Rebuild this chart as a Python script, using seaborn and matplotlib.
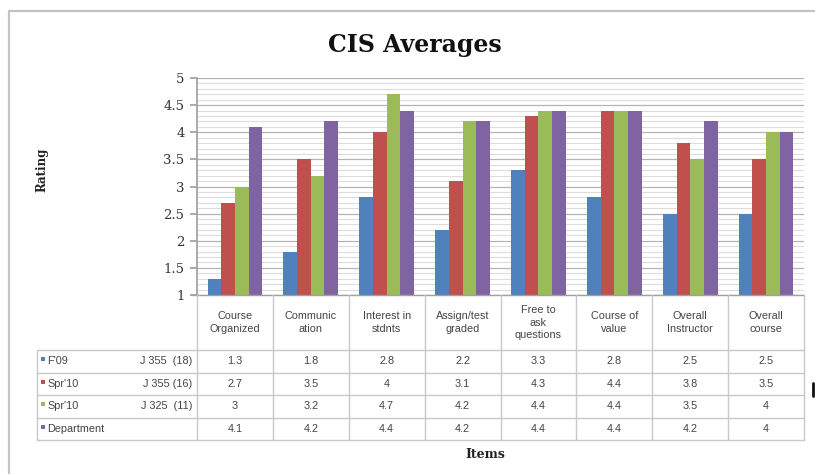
import numpy as np
import pandas as pd
import matplotlib
matplotlib.use("Agg")
import matplotlib.pyplot as plt
import seaborn as sns
from matplotlib.ticker import MultipleLocator, FuncFormatter

# --- data ---
items = ["Course\nOrganized", "Communic\nation", "Interest in\nstdnts", "Assign/test\ngraded",
         "Free to\nask\nquestions", "Course of\nvalue", "Overall\nInstructor", "Overall\ncourse"]
series = ["F'09 J 355 (18)", "Spr'10 J 355 (16)", "Spr'10 J 325 (11)", "Department"]
row_left = ["F'09", "Spr'10", "Spr'10", "Department"]
row_right = ["J 355  (18)", "J 355 (16)", "J 325  (11)", ""]
f09_j355 = [1.3, 1.8, 2.8, 2.2, 3.3, 2.8, 2.5, 2.5]
spr10_j355 = [2.7, 3.5, 4, 3.1, 4.3, 4.4, 3.8, 3.5]
spr10_j325 = [3, 3.2, 4.7, 4.2, 4.4, 4.4, 3.5, 4]
department = [4.1, 4.2, 4.4, 4.2, 4.4, 4.4, 4.2, 4]
colors = ["#4F81BD", "#C0504D", "#9BBB59", "#8064A2"]

values = [f09_j355, spr10_j355, spr10_j325, department]
df = pd.DataFrame({
    "item": items * len(series),
    "series": np.repeat(series, len(items)),
    "rating": np.concatenate(values),
})

sns.set_theme(style="white")
plt.rcParams["font.family"] = ["DejaVu Serif"]

W, H = 815, 474
fig = plt.figure(figsize=(W / 100, H / 100), dpi=100)

# plot area in pixels
x0, x1, y_top, y_bot = 197, 804, 78, 295
ax = fig.add_axes([x0 / W, 1 - y_bot / H, (x1 - x0) / W, (y_bot - y_top) / H])

sns.barplot(data=df, x="item", y="rating", hue="series", order=items, hue_order=series,
            palette=colors, width=0.72, gap=0, saturation=1, errorbar=None,
            legend=False, ax=ax, linewidth=0)

ax.set_ylim(1, 5)
ax.set_xlim(-0.5, len(items) - 0.5)
ax.yaxis.set_major_locator(MultipleLocator(0.5))
ax.yaxis.set_minor_locator(MultipleLocator(0.1))
ax.yaxis.set_major_formatter(FuncFormatter(lambda v, p: f"{v:g}"))
ax.set_axisbelow(True)
ax.grid(which="minor", axis="y", color="#dcdcdc", lw=0.8)
ax.grid(which="major", axis="y", color="#b4b4b4", lw=0.9)
ax.set_xticks([])
ax.set_xlabel("")
ax.set_ylabel("")
for s in ["top", "right", "bottom"]:
    ax.spines[s].set_visible(False)
ax.spines["left"].set_color("#a0a0a0")
ax.tick_params(axis="y", which="major", left=True, length=5, color="#a0a0a0",
               labelsize=9.5, labelcolor="#333333", pad=4)
ax.tick_params(axis="y", which="minor", left=False)

# overlay in pixel coords for frame, titles and data table
ov = fig.add_axes([0, 0, 1, 1], zorder=5)
ov.set_xlim(0, W)
ov.set_ylim(H, 0)
ov.axis("off")
ov.patch.set_alpha(0)

ov.plot([9, W + 5], [11, 11], color="#c4c4c4", lw=1.6)
ov.plot([9, 9], [11, H + 5], color="#c4c4c4", lw=1.6)

ov.text(415, 45, "CIS Averages", ha="center", va="center", fontsize=17, fontweight="bold",
        color="#111111")
ov.text(42, 170, "Rating", ha="center", va="center", rotation=90, fontsize=8.5,
        fontweight="bold", color="#222222")
ov.text(485, 455, "Items", ha="center", va="center", fontsize=9, fontweight="bold",
        color="#222222")

line_c = "#c8c8c8"
sans = ["Liberation Sans", "DejaVu Sans"]
txt_c = "#444444"
col_w = (x1 - x0) / len(items)
row_y = [350, 372.5, 395, 417.5, 440]
tab_left = 37

# x axis line
ov.plot([x0 - 5, x1], [y_bot, y_bot], color="#a0a0a0", lw=1)
# horizontal table lines
for y in row_y:
    ov.plot([tab_left, x1], [y, y], color=line_c, lw=1)
ov.plot([tab_left, tab_left], [row_y[0], row_y[-1]], color=line_c, lw=1)
for i in range(len(items) + 1):
    xx = x0 + i * col_w
    ov.plot([xx, xx], [y_bot, row_y[-1]], color=line_c, lw=1)

# column headers
for i, it in enumerate(items):
    ov.text(x0 + (i + 0.5) * col_w, (y_bot + row_y[0]) / 2, it, ha="center", va="center",
            fontsize=7.8, family=sans, color=txt_c, linespacing=1.35)

# rows
for r in range(len(series)):
    yc = (row_y[r] + row_y[r + 1]) / 2
    ov.scatter([43], [yc - 2], marker="s", s=9, color=colors[r], linewidths=0)
    ov.text(47, yc, row_left[r], ha="left", va="center", fontsize=7.8, family=sans, color=txt_c)
    ov.text(192, yc, row_right[r], ha="right", va="center", fontsize=7.8, family=sans, color=txt_c)
    for i in range(len(items)):
        ov.text(x0 + (i + 0.5) * col_w, yc, f"{values[r][i]:g}", ha="center", va="center",
                fontsize=7.8, family=sans, color=txt_c)

# small stray mark at right edge
ov.plot([813, 813], [383, 396], color="#111111", lw=2)

fig.savefig("out.png", dpi=100)
